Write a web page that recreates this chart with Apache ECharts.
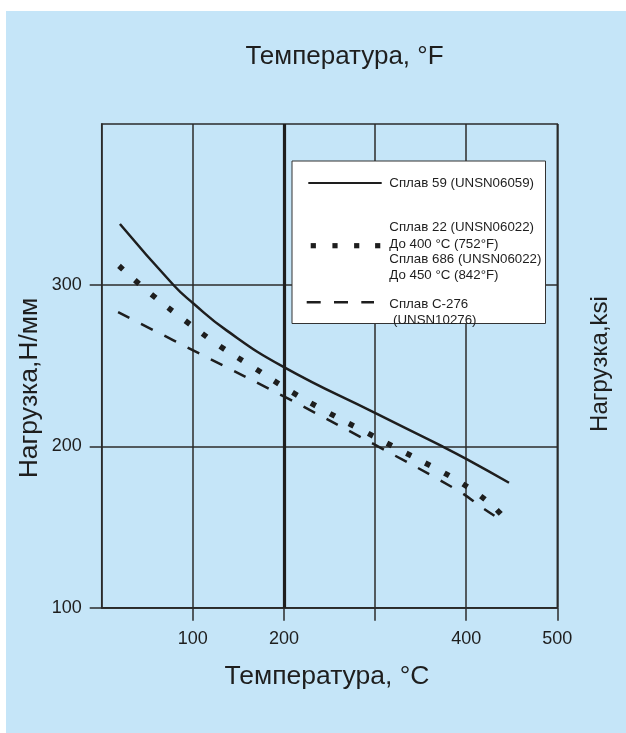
<!DOCTYPE html>
<html><head><meta charset="utf-8">
<script src="https://cdn.jsdelivr.net/npm/echarts@6/dist/echarts.min.js"></script>
<style>
html,body{margin:0;padding:0;background:#fff;width:626px;height:733px;overflow:hidden}
#c{position:absolute;left:6px;top:11px;width:620px;height:722px}
</style>
</head><body><div id="c"></div>
<script>
// Data (x: °C, y: Н/мм)
const alloy59 = [[20,338],[79,300],[100,289],[137,272],[199,249.5],[301,220.5],[374,200],[401,192],[447,177.5]];
const alloy22 = [[19,312],[54,294.6],[91,278.3],[129,262.5],[168,248.5],[208,234],[248,221.2],[290,208.8],[331.5,196.6],[372.5,184.6],[393.6,177.7],[413.4,170.3],[431.4,161.9],[447.4,152.2]];
const alloyC276 = [[18,283.3],[108,257.4],[201,230.7],[303.6,199.9],[392,172.3],[417,162.3],[431,157]];
const seriesNames = ['Сплав 59 (UNSN06059)', 'Сплав 22 / Сплав 686', 'Сплав С-276 (UNSN10276)'];
const xTickValues = [100,200,300,400,500];
const xLabelValues = [100,200,400,500];
const yTickValues = [100,200,300];
const yLabelValues = [100,200,300];
const boldGridX = 200;
const legendTexts59 = ['Сплав 59 (UNSN06059)'];
const legendTexts22 = ['Сплав 22 (UNSN06022)','До 400 °C (752°F)','Сплав 686 (UNSN06022)','До 450 °C (842°F)'];
const legendTextsC276 = ['Сплав С-276',' (UNSN10276)'];
const titleTop = 'Температура, °F';
const titleBottom = 'Температура, °C';
const titleLeft = 'Нагрузка,Н/мм';
const titleRight = 'Нагрузка,ksi';

const FF = '"Liberation Sans", Arial, Helvetica, sans-serif';
const INK = '#1e1e1e';
const GRIDC = '#2b2b2b';

const chart = echarts.init(document.getElementById('c'), null, {renderer:'canvas'});

function txt(x, y, s, size, opts) {
  return Object.assign({
    type:'text', x:x, y:y, z:100,
    style:{text:s, fontSize:size, fontFamily:FF, fill:INK,
      textAlign:(opts&&opts.align)||'left', textVerticalAlign:'middle', verticalAlign:'middle'}
  }, opts && opts.rotation ? {rotation:opts.rotation} : {});
}

const graphics = [
  txt(338.5, 46, titleTop, 26, {align:'center'}),
  txt(321, 666, titleBottom, 26.5, {align:'center'}),
  txt(24, 377, titleLeft, 26.5, {align:'center', rotation:Math.PI/2}),
  txt(594, 353, titleRight, 24, {align:'center', rotation:Math.PI/2}),
  {type:'rect', z:90, shape:{x:286, y:150, width:253.5, height:162.5}, style:{fill:'#fff', stroke:'#333', lineWidth:1}},
  {type:'line', z:100, shape:{x1:302.3, y1:172, x2:375.7, y2:172}, style:{stroke:INK, lineWidth:2}},
  {type:'line', z:100, shape:{x1:300.7, y1:291.3, x2:368, y2:291.3}, style:{stroke:INK, lineWidth:2.5, lineDash:[14,13.3]}}
];
[307.3, 329, 350.7, 371.7].forEach(function(cx){
  graphics.push({type:'rect', z:100, shape:{x:cx-2.6, y:234.7-2.6, width:5.2, height:5.2}, style:{fill:INK}});
});
graphics.push(txt(383.3, 172, legendTexts59[0], 13.3));
[216.3, 233.3, 248, 264.7].forEach(function(y, i){ graphics.push(txt(383.3, y, legendTexts22[i], 13.3)); });
graphics.push(txt(383.3, 293.3, legendTextsC276[0], 13.3));
graphics.push(txt(383.3, 309.7, legendTextsC276[1], 13.3));

const axisLineStyle = {color:GRIDC, width:1.5};

chart.setOption({
  animation:false,
  backgroundColor:'#c5e5f8',
  grid:{left:95.7, right:68.7, top:113, bottom:125.3, containLabel:false, outerBoundsMode:'none',
        show:true, borderColor:GRIDC, borderWidth:1.5, backgroundColor:'transparent'},
  xAxis:{type:'value', min:0, max:500, interval:100,
    axisLine:{show:true, onZero:false, lineStyle:axisLineStyle},
    axisTick:{show:true, length:13, customValues:xTickValues, lineStyle:axisLineStyle},
    axisLabel:{customValues:xLabelValues, margin:22, fontSize:18, fontFamily:FF, color:INK},
    splitLine:{show:true, lineStyle:{color:GRIDC, width:1.5}}},
  yAxis:{type:'value', min:100, max:400, interval:100,
    axisLine:{show:true, onZero:false, lineStyle:axisLineStyle},
    axisTick:{show:true, length:12, customValues:yTickValues, lineStyle:axisLineStyle},
    axisLabel:{customValues:yLabelValues, margin:20, fontSize:18, fontFamily:FF, color:INK},
    splitLine:{show:true, lineStyle:{color:GRIDC, width:1.5}}},
  graphic:graphics,
  series:[
    {name:seriesNames[0], type:'line', data:alloy59, smooth:0.5, symbol:'none',
     lineStyle:{color:INK, width:2.5},
     markLine:{silent:true, symbol:'none', label:{show:false},
       lineStyle:{color:INK, width:3.2, type:'solid'}, data:[{xAxis:boldGridX}]}},
    {name:seriesNames[1], type:'line', data:alloy22, smooth:0.4, symbol:'none',
     lineStyle:{color:INK, width:5.5, type:[5.5,16], cap:'butt'}},
    {name:seriesNames[2], type:'line', data:alloyC276, smooth:0.4, symbol:'none',
     lineStyle:{color:INK, width:2.5, type:[13,13], cap:'butt'}}
  ]
});
</script>
</body></html>
